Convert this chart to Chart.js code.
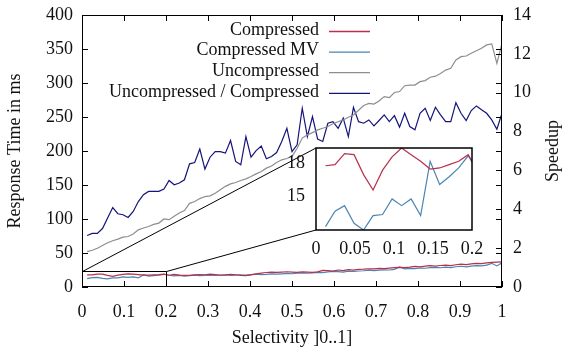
<!DOCTYPE html>
<html lang="en">
<head>
<meta charset="UTF-8">
<title>Response time vs. selectivity</title>
<script src="https://cdn.jsdelivr.net/npm/chart.js"></script>
<style>
  body { margin: 0; background: #fff; }
  #wrap { position: relative; width: 564px; height: 354px; }
  #main { position: absolute; left: 0; top: 0; }
  #zoom { position: absolute; left: 250px; top: 135px; }
</style>
</head>
<body>
<div id="wrap">
  <canvas id="main" width="564" height="354"></canvas>
  <canvas id="zoom" width="246" height="125"></canvas>
</div>

<script>
// selectivity grid of the measurements
const selectivity = Array.from({ length: 82 }, (_, i) => (i + 1) / 82);

// response times in ms
const compressed = [
  17.8, 17.9, 18.9, 18.8, 17.0, 15.6, 17.4, 18.6, 19.4, 18.8,
  18.2, 17.5, 17.6, 17.9, 18.2, 18.8, 17.3, 18.5, 17.6, 17.0,
  17.2, 17.8, 18.3, 18.0, 18.9, 18.4, 17.6, 17.9, 18.6, 18.0,
  17.2, 16.8, 17.9, 19.2, 20.5, 21.3, 21.8, 21.5, 21.9, 22.4,
  22.0, 21.6, 22.3, 22.0, 21.5, 22.2, 24.3, 24.0, 23.4, 25.0,
  24.2, 25.5, 24.8, 26.0, 26.3, 26.8, 26.6, 27.3, 26.9, 27.8,
  28.5, 28.8, 28.4, 29.3, 30.4, 29.8, 30.6, 31.4, 30.8, 31.6,
  32.2, 31.5, 32.7, 33.6, 33.0, 34.1, 34.8, 34.3, 35.6, 36.2,
  36.5, 36.9
];
const compressedMV = [
  12.3, 13.7, 14.2, 12.6, 12.0, 13.3, 13.4, 14.8, 14.2, 14.8,
  13.3, 18.2, 16.1, 16.8, 17.6, 18.7, 17.3, 16.5, 17.2, 16.0,
  16.8, 17.4, 16.6, 17.0, 17.5, 16.9, 17.3, 17.8, 17.2, 17.6,
  18.0, 17.4, 18.3, 18.8, 18.2, 18.6, 19.3, 18.9, 19.4, 20.0,
  19.5, 20.3, 20.8, 20.2, 20.9, 21.5, 21.0, 22.2, 23.0, 22.6,
  22.0, 23.3, 22.8, 23.5, 23.9, 24.8, 24.2, 24.7, 25.3, 25.0,
  26.0, 29.5, 26.8, 27.5, 27.0, 28.1, 27.6, 28.4, 29.0, 28.3,
  29.2, 28.6, 29.8, 30.5, 29.7, 30.8, 31.5, 31.0, 32.2, 34.8,
  31.0, 35.5
];
const uncompressed = [
  52, 54, 57, 61, 65, 68, 70.5, 73.4, 74.3, 78,
  84, 86.7, 89, 92, 94, 100, 99, 104, 108.7, 112.5,
  123, 125.7, 130, 133, 134, 138, 143, 148, 151.7, 153.7,
  156.6, 159, 162.5, 166.4, 169.8, 174.8, 178, 183, 187, 189,
  192, 204, 219, 223.7, 227, 231, 233.5, 236, 240, 243,
  245.7, 249.7, 253, 260, 267, 270, 269, 273.6, 280, 278.5,
  286, 287.4, 296, 297, 297, 302, 303.5, 308.5, 310, 314,
  319, 321.7, 333.9, 338.7, 339.7, 343.7, 347.5, 351, 356, 357.4,
  329, 358.4
];
// Uncompressed / Compressed, right axis
const speedup = [
  2.65, 2.76, 2.76, 3.01, 3.55, 4.09, 3.77, 3.72, 3.58, 3.89,
  4.40, 4.75, 4.92, 4.92, 4.92, 5.04, 5.48, 5.26, 5.35, 5.52,
  6.34, 6.41, 7.10, 6.07, 6.68, 6.97, 6.97, 6.89, 7.54, 6.46,
  6.29, 7.74, 6.68, 7.02, 7.26, 6.60, 6.72, 6.92, 7.49, 8.17,
  6.97, 7.32, 9.20, 7.74, 8.77, 7.61, 7.49, 8.43, 8.51, 8.17,
  8.69, 7.74, 9.25, 8.51, 8.43, 8.60, 8.29, 8.57, 8.86, 8.51,
  8.82, 8.23, 8.94, 8.26, 8.09, 8.94, 9.20, 8.57, 9.25, 8.86,
  8.51, 8.51, 9.49, 8.94, 8.57, 9.08, 9.32, 9.12, 8.94, 8.60,
  8.12, 8.94
];

const xTicks = [0, 0.1, 0.2, 0.3, 0.4, 0.5, 0.6, 0.7, 0.8, 0.9, 1];
const timeTicks = [0, 50, 100, 150, 200, 250, 300, 350, 400];
const speedupTicks = [0, 2, 4, 6, 8, 10, 12, 14];
const zoomXTicks = [0, 0.05, 0.1, 0.15, 0.2];
const zoomYTicks = [15, 18];

// region of the main plot that the inset magnifies
const zoomRangeX = [0, 0.2];
const zoomRangeY = [0, 23];

const SERIF = '"Liberation Serif", "Times New Roman", serif';
const FONT = { family: SERIF, size: 18 };
const TEXT = '#111';
const TICK = 6;

const RED = '#b8304a';
const STEEL = '#4a85b2';
const GRAY = '#8e8e8e';
const NAVY = '#14147a';

const pts = vals => vals.map((v, i) => ({ x: selectivity[i], y: v }));
const fixTicks = list => scale => { scale.ticks = list.map(v => ({ value: v })); };
const fmt = v => String(+v.toFixed(3));

// fixed box size; tick label overflow must not shrink the plot area
const fixSize = (w, h) => s => {
  if (w != null) s.width = w;
  if (h != null) s.height = h;
  s.paddingLeft = s.paddingRight = s.paddingTop = s.paddingBottom = 0;
};

const noGrid = { display: false, drawTicks: false };

function line(label, data, color, axis) {
  return {
    label, data: pts(data), yAxisID: axis,
    borderColor: color, backgroundColor: color,
    borderWidth: 1.2, pointRadius: 0, tension: 0, fill: false
  };
}

// ---------- inset: first 0.2 of selectivity ----------
const zoomPlugin = {
  id: 'zoomBox',
  beforeDatasetsDraw(chart) {
    const a = chart.chartArea, ctx = chart.ctx;
    ctx.save();
    ctx.fillStyle = '#fff';
    ctx.fillRect(a.left, a.top, a.width, a.height);
    ctx.restore();
  },
  afterDatasetsDraw(chart) {
    const a = chart.chartArea, ctx = chart.ctx;
    ctx.save();
    ctx.strokeStyle = '#000';
    ctx.lineWidth = 1.5;
    ctx.strokeRect(a.left, a.top, a.width, a.height);
    ctx.restore();
  }
};

const zoomChart = new Chart(document.getElementById('zoom'), {
  type: 'line',
  data: {
    datasets: [
      { ...line('Compressed', compressed, RED, 'y'), clip: 0 },
      { ...line('Compressed MV', compressedMV, STEEL, 'y'), clip: 0 }
    ]
  },
  options: {
    responsive: false,
    animation: false,
    layout: { padding: { top: 13, right: 24, left: 0, bottom: 0 } },
    plugins: { legend: { display: false }, tooltip: { enabled: false } },
    scales: {
      x: {
        type: 'linear', min: 0, max: 0.2,
        afterBuildTicks: fixTicks(zoomXTicks),
        afterFit: fixSize(null, 30),
        grid: noGrid, border: { display: false },
        ticks: { font: FONT, color: TEXT, padding: 8, maxRotation: 0, autoSkip: false, callback: fmt }
      },
      y: {
        type: 'linear', min: 12, max: 19.4,
        afterBuildTicks: fixTicks(zoomYTicks),
        afterFit: fixSize(66, null),
        grid: noGrid, border: { display: false },
        ticks: { font: FONT, color: TEXT, padding: 11, callback: fmt }
      }
    }
  },
  plugins: [zoomPlugin]
});

// ---------- main plot ----------
const framePlugin = {
  id: 'frame',
  afterDatasetsDraw(chart) {
    const { ctx, chartArea: a } = chart;
    const { x, y, y2 } = chart.scales;
    ctx.save();
    ctx.strokeStyle = '#000';
    ctx.lineWidth = 1;
    ctx.strokeRect(a.left + 0.5, a.top + 0.5, a.width - 1, a.height - 1);

    // inward tick marks, x mirrored on top, y mirrored on the right
    ctx.beginPath();
    xTicks.forEach(v => {
      const px = Math.round(x.getPixelForValue(v)) + 0.5;
      ctx.moveTo(px, a.bottom); ctx.lineTo(px, a.bottom - TICK);
      ctx.moveTo(px, a.top); ctx.lineTo(px, a.top + TICK);
    });
    timeTicks.forEach(v => {
      const py = Math.round(y.getPixelForValue(v)) + 0.5;
      ctx.moveTo(a.left, py); ctx.lineTo(a.left + TICK, py);
      ctx.moveTo(a.right, py); ctx.lineTo(a.right - TICK, py);
    });
    speedupTicks.forEach(v => {
      const py = Math.round(y2.getPixelForValue(v)) + 0.5;
      ctx.moveTo(a.right, py); ctx.lineTo(a.right - TICK, py);
    });
    ctx.stroke();

    // magnified region and its connectors to the inset
    const zx0 = Math.round(x.getPixelForValue(zoomRangeX[0])) + 0.5;
    const zx1 = Math.round(x.getPixelForValue(zoomRangeX[1])) + 0.5;
    const zy0 = y.getPixelForValue(zoomRangeY[0]);
    const zy1 = Math.round(y.getPixelForValue(zoomRangeY[1])) + 0.5;
    const el = zoomChart.canvas;
    const za = zoomChart.chartArea;
    const ix = el.offsetLeft + za.left;
    const iyTop = el.offsetTop + za.top;
    const iyBot = el.offsetTop + za.bottom;
    ctx.beginPath();
    ctx.moveTo(zx0, zy1); ctx.lineTo(zx1, zy1); ctx.lineTo(zx1, zy0);
    ctx.moveTo(zx0, zy1); ctx.lineTo(ix, iyTop);
    ctx.moveTo(zx1, zy1); ctx.lineTo(ix, iyBot);
    ctx.stroke();
    ctx.restore();
  },
  afterDraw(chart) {
    const { ctx, chartArea: a } = chart;
    ctx.save();
    ctx.font = '18px ' + SERIF;
    ctx.fillStyle = TEXT;

    // legend: label on the left, line sample on the right
    ctx.textAlign = 'right';
    ctx.textBaseline = 'middle';
    chart.data.datasets.forEach((ds, i) => {
      const ly = 31.5 + i * 20.6;
      ctx.fillText(ds.label, 319, ly - 1.5);
      ctx.strokeStyle = ds.borderColor;
      ctx.lineWidth = 1.3;
      ctx.beginPath();
      ctx.moveTo(329, ly); ctx.lineTo(370, ly);
      ctx.stroke();
    });

    // right axis title
    ctx.translate(553, (a.top + a.bottom) / 2);
    ctx.rotate(-Math.PI / 2);
    ctx.textAlign = 'center';
    ctx.fillText('Speedup', 0, 0);
    ctx.restore();
  }
};

new Chart(document.getElementById('main'), {
  type: 'line',
  data: {
    datasets: [
      line('Compressed', compressed, RED, 'y'),
      line('Compressed MV', compressedMV, STEEL, 'y'),
      line('Uncompressed', uncompressed, GRAY, 'y'),
      line('Uncompressed / Compressed', speedup, NAVY, 'y2')
    ]
  },
  options: {
    responsive: false,
    animation: false,
    layout: { padding: { top: 15, right: 0, left: 0, bottom: 0 } },
    plugins: { legend: { display: false }, tooltip: { enabled: false } },
    scales: {
      x: {
        type: 'linear', min: 0, max: 1,
        afterBuildTicks: fixTicks(xTicks),
        afterFit: fixSize(null, 67),
        grid: noGrid, border: { display: false },
        ticks: { font: FONT, color: TEXT, padding: 14, maxRotation: 0, autoSkip: false, callback: fmt },
        title: { display: true, text: 'Selectivity ]0..1]', font: FONT, color: TEXT, padding: { top: 0, bottom: 5 } }
      },
      y: {
        type: 'linear', position: 'left', min: 0, max: 400,
        afterBuildTicks: fixTicks(timeTicks),
        afterFit: fixSize(82, null),
        grid: noGrid, border: { display: false },
        ticks: { font: FONT, color: TEXT, padding: 9, callback: fmt },
        title: { display: true, text: 'Response Time in ms', font: FONT, color: TEXT, padding: { top: 4, bottom: 0 } }
      },
      y2: {
        type: 'linear', position: 'right', min: 0, max: 14,
        afterBuildTicks: fixTicks(speedupTicks),
        afterFit: fixSize(62, null),
        grid: noGrid, border: { display: false },
        ticks: { font: FONT, color: TEXT, padding: 11, callback: fmt }
      }
    }
  },
  plugins: [framePlugin]
});
</script>
</body>
</html>
